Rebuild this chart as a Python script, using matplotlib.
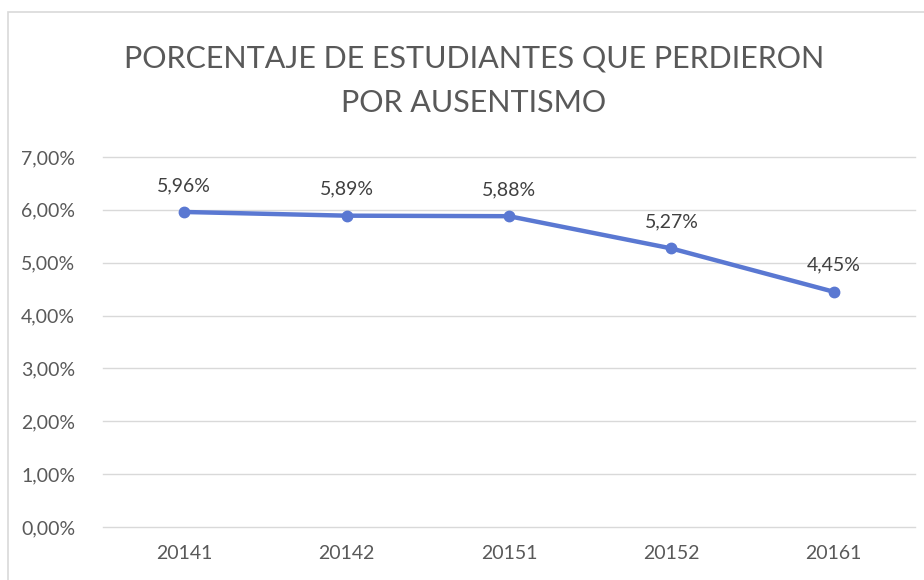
import matplotlib.pyplot as plt
from matplotlib.patches import Rectangle

periodos = ['20141', '20142', '20151', '20152', '20161']
porcentajes = [5.96, 5.89, 5.88, 5.27, 4.45]
etiquetas_y = ['0,00%', '1,00%', '2,00%', '3,00%', '4,00%', '5,00%', '6,00%', '7,00%']

plt.rcParams['font.family'] = ['Lato', 'DejaVu Sans']

fig = plt.figure(figsize=(9.24, 5.8), dpi=100)
# borde del área del gráfico
fig.patches.append(Rectangle((8 / 924, -0.05), 1.0, 1.05 - 12 / 580,
                             transform=fig.transFigure, fill=False,
                             edgecolor='#d9d9d9', linewidth=1.2))

ax = fig.add_axes([103 / 924, 1 - 527 / 580, 812 / 924, 370 / 580])
x = range(len(periodos))
ax.plot(x, porcentajes, color='#5a78d2', linewidth=3.2, marker='o', markersize=7.5)
for i, v in enumerate(porcentajes):
    ax.annotate(f'{v:.2f}%'.replace('.', ','), (i, v), xytext=(0, 13),
                textcoords='offset points', ha='center', va='bottom',
                fontsize=14, color='#404040')

ax.set_xlim(-0.5, len(periodos) - 0.5)
ax.set_ylim(0, 7)
ax.set_yticks(range(8))
ax.set_yticklabels(etiquetas_y)
ax.set_xticks(list(x))
ax.set_xticklabels(periodos)
ax.tick_params(length=0, labelsize=14, labelcolor='#595959')
ax.tick_params(axis='x', pad=13)
ax.tick_params(axis='y', pad=20)
ax.grid(axis='y', color='#d9d9d9', linewidth=1)
for linea in ax.get_ygridlines():
    linea.set_clip_on(False)
ax.set_axisbelow(True)
for s in ax.spines.values():
    s.set_visible(False)

fig.text(474 / 924, 1 - 58 / 580, 'PORCENTAJE DE ESTUDIANTES QUE PERDIERON',
         ha='center', va='center', fontsize=22, color='#595959')
fig.text(474 / 924, 1 - 103 / 580, 'POR AUSENTISMO',
         ha='center', va='center', fontsize=22, color='#595959')

fig.savefig('out.png', dpi=100)
